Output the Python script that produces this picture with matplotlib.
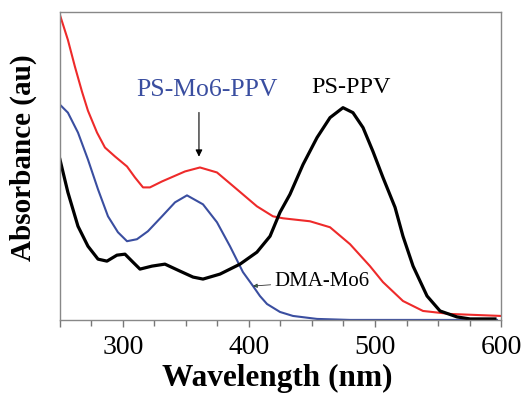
import numpy as np
import matplotlib
matplotlib.use("Agg")
import matplotlib.pyplot as plt

plt.rcParams['font.family'] = ['Liberation Serif', 'DejaVu Serif']

# UV-vis absorbance (arbitrary units)
wl_red = [250, 256.3, 261.9, 267.5, 272.2, 279.4, 285.7, 293.7, 303.2, 309.5, 315.9,
          321.4, 331, 349.2, 361.1, 374.6, 390.5, 406.3, 419, 427, 448.4, 464.3,
          480.2, 496, 506.3, 522.2, 538.1, 559.5, 600]
abs_red = [3.05, 2.80, 2.53, 2.28, 2.09, 1.87, 1.72, 1.63, 1.53, 1.42, 1.32, 1.32,
           1.38, 1.48, 1.52, 1.47, 1.30, 1.13, 1.03, 1.01, 0.98, 0.92, 0.75, 0.53,
           0.37, 0.18, 0.08, 0.05, 0.03]

wl_blue = [250, 256.3, 264.3, 272.2, 280.2, 288.1, 296, 303.2, 311.1, 319.8, 331,
           341.3, 350.8, 363.5, 374.6, 384.9, 395.2, 403.2, 408.7, 414.3, 424.6,
           434.9, 454, 480.2, 596.8]
abs_blue = [2.15, 2.07, 1.87, 1.60, 1.30, 1.03, 0.87, 0.78, 0.80, 0.88, 1.03, 1.17,
            1.24, 1.15, 0.97, 0.73, 0.47, 0.33, 0.23, 0.15, 0.07, 0.03, 0.0, -0.01,
            -0.01]

wl_black = [250, 256.3, 264.3, 272.2, 280.2, 287.3, 295.2, 301.6, 307.9, 313.5, 323,
            333.3, 345.2, 355.6, 363.5, 377, 392.9, 406.3, 416.7, 424.6, 432.5, 442.9,
            454, 464.3, 474.6, 482.5, 490.5, 498.4, 506.3, 515.9, 522.2, 530.2, 541.3,
            551.6, 565.1, 575.4, 595.2]
abs_black = [1.60, 1.27, 0.93, 0.73, 0.60, 0.58, 0.64, 0.65, 0.57, 0.50, 0.53, 0.55,
             0.48, 0.42, 0.40, 0.45, 0.55, 0.67, 0.83, 1.07, 1.25, 1.55, 1.82, 2.02,
             2.12, 2.07, 1.92, 1.68, 1.42, 1.12, 0.83, 0.53, 0.23, 0.08, 0.02, 0.0, 0.0]

fig = plt.figure(figsize=(5.26, 3.94), dpi=100)
ax = fig.add_axes([0.114, 0.188, 0.8385, 0.7815])

ax.plot(wl_red, abs_red, color='#ee2a2a', lw=1.5, solid_joinstyle='round')
ax.plot(wl_blue, abs_blue, color='#3a4ea0', lw=1.5, solid_joinstyle='round')
ax.plot(wl_black, abs_black, color='black', lw=2.3, solid_joinstyle='round')

ax.set_xlim(250, 600)
ax.set_ylim(-0.01, 3.08)
ax.set_yticks([])
ax.set_xticks([250, 300, 400, 500, 600])
ax.set_xticklabels(['', '300', '400', '500', '600'])
ax.set_xticks(np.arange(250, 601, 25), minor=True)
ax.tick_params(axis='x', which='major', direction='out', length=5, width=1,
               color='#777777', labelsize=20, pad=6)
ax.tick_params(axis='x', which='minor', direction='out', length=4, width=1,
               color='#777777')
for s in ax.spines.values():
    s.set_color('#888888')
    s.set_linewidth(1)

fig.text(0.527, 0.002, 'Wavelength (nm)', fontsize=22.5, fontweight='bold',
         ha='center', va='bottom')
fig.text(0.044, 0.601, 'Absorbance (au)', fontsize=21, fontweight='bold',
         rotation=90, ha='center', va='center')

ax.text(367, 2.30, 'PS-Mo6-PPV', color='#3a4ea0', fontsize=18.5, ha='center', va='center')
ax.text(481, 2.32, 'PS-PPV', color='black', fontsize=17.5, ha='center', va='center')
ax.annotate('', xy=(360.3, 1.60), xytext=(360.3, 2.10),
            arrowprops=dict(arrowstyle='-|>', color='black', lw=0.8, mutation_scale=10))
ax.annotate('DMA-Mo6', xy=(403.2, 0.33), xytext=(420.5, 0.38), fontsize=15,
            va='center', ha='left',
            arrowprops=dict(arrowstyle='-|>', color='#333333', lw=0.6,
                            mutation_scale=6, fc='#2e8b57', shrinkA=1, shrinkB=0))

fig.savefig('out.png', dpi=100)
